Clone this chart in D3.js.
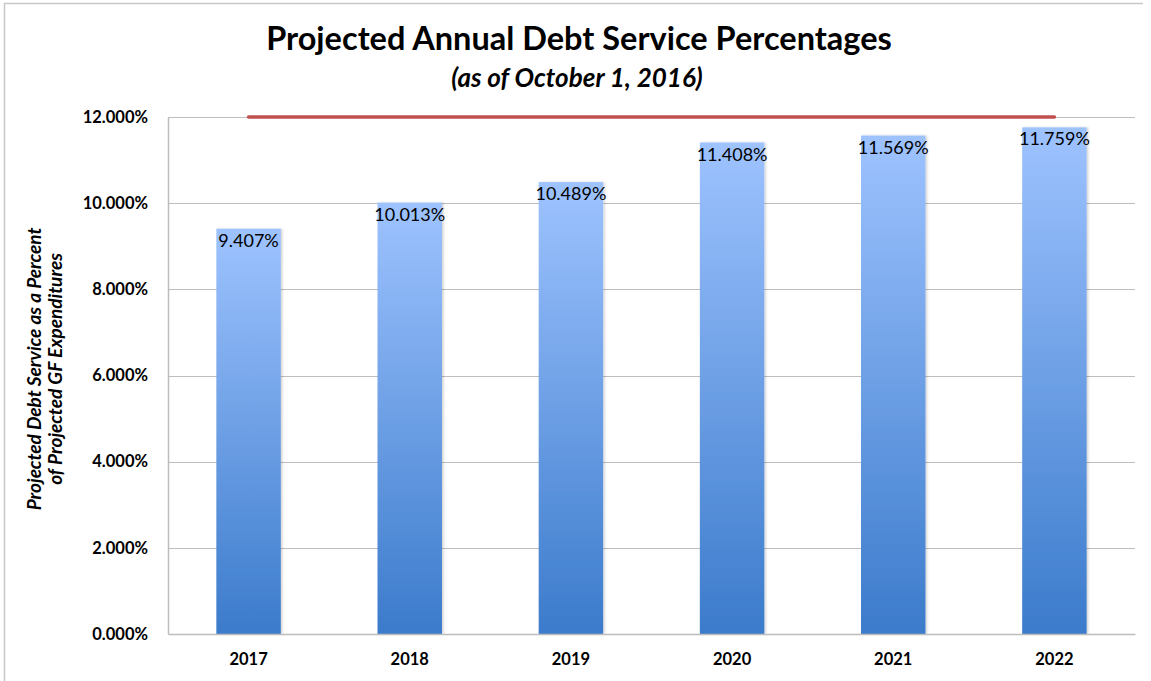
<!DOCTYPE html>
<html>
<head>
<meta charset="utf-8">
<script src="https://cdn.jsdelivr.net/npm/d3@7"></script>
<style>
  body { margin: 0; background: white; }
  svg { display: block; font-family: Lato, "Open Sans", sans-serif; }
</style>
</head>
<body>
<div id="chart"></div>
<script>
// projected annual debt service percentages chart

// data
const years = ["2017", "2018", "2019", "2020", "2021", "2022"];
const debtService = [9.407, 10.013, 10.489, 11.408, 11.569, 11.759];
const policyLimit = [12, 12, 12, 12, 12, 12];
const yTicks = [0, 2, 4, 6, 8, 10, 12];

const totalWidth = 1151, h = 681;
const margin = {top: 117, right: 16, bottom: 47, left: 168};

const format3 = d3.format(".3f");

// scales
const x = d3.scaleBand()
  .domain(years)
  .range([margin.left, totalWidth - margin.right])
  .paddingInner(0.6)
  .paddingOuter(0.3);

const y = d3.scaleLinear()
  .domain([0, 12])
  .range([h - margin.bottom, margin.top]);

const svg = d3.select("#chart")
  .append("svg")
  .attr("width", totalWidth)
  .attr("height", h);

// gradient + soft shadow for the bars
const defs = svg.append("defs");
const grad = defs.append("linearGradient")
  .attr("id", "barGrad")
  .attr("x1", 0).attr("y1", 0).attr("x2", 0).attr("y2", 1);
grad.append("stop").attr("offset", "0%").attr("stop-color", "#9ec3ff");
grad.append("stop").attr("offset", "100%").attr("stop-color", "#3b7bcb");

const shadow = defs.append("filter").attr("id", "barShadow")
  .attr("x", "-10%").attr("y", "-5%").attr("width", "125%").attr("height", "110%");
shadow.append("feDropShadow")
  .attr("dx", 1.5).attr("dy", 0).attr("stdDeviation", 1.2)
  .attr("flood-color", "#000").attr("flood-opacity", 0.18);

// outer frame (left and top edges visible)
svg.append("path")
  .attr("d", "M4.5,681 V3.5 H1143")
  .attr("fill", "none")
  .attr("stroke", "#c8c8c8")
  .attr("stroke-width", 1.5);

// title
svg.append("text")
  .attr("x", 579).attr("y", 50)
  .attr("text-anchor", "middle")
  .style("font-size", "32.5px")
  .style("font-weight", "bold")
  .text("Projected Annual Debt Service Percentages");

svg.append("text")
  .attr("x", 577).attr("y", 87)
  .attr("text-anchor", "middle")
  .style("font-size", "26px")
  .style("font-weight", "bold")
  .style("font-style", "italic")
  .text("(as of October 1, 2016)");

// gridlines
svg.append("g")
  .selectAll("line")
  .data(yTicks.filter(d => d > 0))
  .join("line")
    .attr("x1", margin.left)
    .attr("x2", totalWidth - margin.right)
    .attr("y1", d => Math.round(y(d)) + 0.5)
    .attr("y2", d => Math.round(y(d)) + 0.5)
    .attr("stroke", "#bdbdbd")
    .attr("stroke-width", 1.2);

// y axis
svg.append("g")
  .attr("transform", `translate(${margin.left},0)`)
  .call(d3.axisLeft(y).tickValues(yTicks).tickFormat(d => format3(d) + "%").tickSize(0).tickPadding(20))
  .call(g => g.select(".domain").attr("stroke", "#bdbdbd").attr("stroke-width", 1.5))
  .call(g => g.selectAll(".tick text")
    .attr("font-size", 16.5)
    .attr("font-weight", "bold")
    .attr("font-family", "Lato, sans-serif")
    .attr("fill", "#000"));

// bars
svg.append("g")
  .selectAll("rect")
  .data(years.map((yr, i) => [yr, debtService[i]]))
  .join("rect")
    .attr("x", d => x(d[0]))
    .attr("y", d => y(d[1]))
    .attr("width", x.bandwidth())
    .attr("height", d => y(0) - y(d[1]))
    .attr("fill", "url(#barGrad)")
    .attr("filter", "url(#barShadow)");

// x axis
svg.append("g")
  .attr("transform", `translate(0,${h - margin.bottom})`)
  .call(d3.axisBottom(x).tickSize(0).tickPadding(19))
  .call(g => g.select(".domain").attr("stroke", "#bdbdbd").attr("stroke-width", 1.5))
  .call(g => g.selectAll(".tick text")
    .attr("font-size", 16.5)
    .attr("font-weight", "bold")
    .attr("font-family", "Lato, sans-serif")
    .attr("fill", "#000"));

// 12% limit line
const limitLine = d3.line()
  .x((d, i) => x(years[i]) + x.bandwidth() / 2)
  .y(d => y(d));

svg.append("path")
  .datum(policyLimit)
  .attr("d", limitLine)
  .attr("fill", "none")
  .attr("stroke", "#c0504d")
  .attr("stroke-width", 3.5)
  .attr("stroke-linecap", "round");

// value labels inside bar tops
svg.append("g")
  .selectAll("text")
  .data(years.map((yr, i) => [yr, debtService[i]]))
  .join("text")
    .attr("x", d => x(d[0]) + x.bandwidth() / 2)
    .attr("y", d => y(d[1]) + 18)
    .attr("text-anchor", "middle")
    .style("font-size", "18px")
    .style("fill", "#000")
    .text(d => format3(d[1]) + "%");

// y axis title
const yTitle = svg.append("text")
  .attr("transform", "translate(41,369) rotate(-90)")
  .attr("text-anchor", "middle")
  .style("font-size", "19px")
  .style("font-weight", "bold")
  .style("font-style", "italic");
yTitle.append("tspan").attr("x", 0).attr("y", 0).text("Projected Debt Service as a Percent");
yTitle.append("tspan").attr("x", 0).attr("y", 21).text("of Projected GF Expenditures");
</script>
</body>
</html>
